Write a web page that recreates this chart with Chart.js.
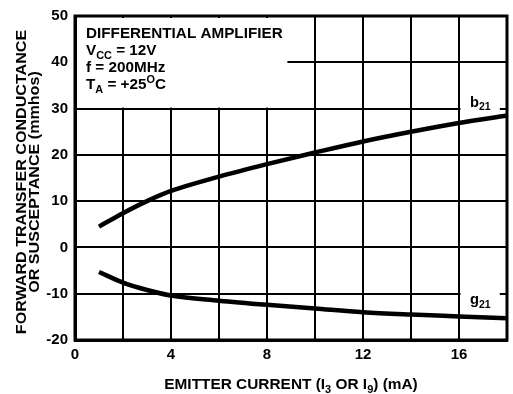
<!DOCTYPE html>
<html><head><meta charset="utf-8">
<script src="https://cdn.jsdelivr.net/npm/chart.js@4/dist/chart.umd.min.js"></script>
<style>html,body{margin:0;padding:0;background:#fff;}#wrap{width:513px;height:394px;position:relative;}</style>
</head><body><div id="wrap"><canvas id="c"></canvas></div>
<script>
const currentMA = [1, 2, 3, 4, 6, 8, 10, 12, 14, 16, 18];
const b21 = [4.5, 7.4, 10.0, 12.2, 15.3, 18.0, 20.5, 22.9, 25.0, 26.9, 28.5];
const g21 = [-5.3, -7.6, -9.2, -10.4, -11.5, -12.4, -13.2, -14.0, -14.5, -14.9, -15.3];
const xTickLabels = ['0', '4', '8', '12', '16'];
const yTickValues = [-20, -10, 0, 10, 20, 30, 40, 50];
const seriesNames = ['b', 'g'];
const seriesSubs = ['21', '21'];
const notes = [
  [{t: 'DIFFERENTIAL AMPLIFIER'}],
  [{t: 'V'}, {t: 'CC', sub: true}, {t: ' = 12V'}],
  [{t: 'f = 200MHz'}],
  [{t: 'T'}, {t: 'A', sub: true}, {t: ' = +25'}, {t: 'O', sup: true}, {t: 'C'}]
];
const xTitle = [{t: 'EMITTER CURRENT (I'}, {t: '3', sub: true}, {t: ' OR I'}, {t: '9', sub: true}, {t: ') (mA)'}];
const yTitle = ['FORWARD TRANSFER CONDUCTANCE', 'OR SUSCEPTANCE (mmhos)'];

const FF = '"Liberation Sans", Arial, sans-serif';

function richWidth(ctx, segs, size) {
  let w = 0;
  for (const s of segs) {
    ctx.font = 'bold ' + ((s.sub || s.sup) ? Math.round(size * 0.72) : size) + 'px ' + FF;
    w += ctx.measureText(s.t).width;
  }
  return w;
}
function drawRich(ctx, segs, x, y, size, align, hs) {
  hs = hs || 1;
  const w = richWidth(ctx, segs, size) * hs;
  const x0 = align === 'center' ? x - w / 2 : x;
  ctx.save();
  ctx.translate(x0, y);
  ctx.scale(hs, 1);
  ctx.textAlign = 'left';
  ctx.textBaseline = 'alphabetic';
  let cx = 0;
  for (const s of segs) {
    const small = s.sub || s.sup;
    ctx.font = 'bold ' + (small ? Math.round(size * 0.72) : size) + 'px ' + FF;
    const dy = s.sub ? size * 0.28 : (s.sup ? -size * 0.42 : 0);
    ctx.fillText(s.t, cx, dy);
    cx += ctx.measureText(s.t).width;
  }
  ctx.restore();
}

const decor = {
  id: 'decor',
  beforeDatasetsDraw(chart) {
    const {ctx, chartArea: a, scales: {x, y}} = chart;
    ctx.save();
    ctx.fillStyle = '#fff';
    ctx.fillRect(a.left + 2, a.top + 2, x.getPixelForValue(8.85) - a.left - 2, y.getPixelForValue(30) - a.top - 3);
    const bx0 = x.getPixelForValue(16) + 1.5, bx1 = x.getPixelForValue(17.7);
    ctx.fillRect(bx0, y.getPixelForValue(30) - 4, bx1 - bx0, 8);
    ctx.fillRect(bx0, y.getPixelForValue(-10) - 4, bx1 - bx0, 8);
    ctx.restore();
  },
  afterDatasetsDraw(chart) {
    const {ctx, chartArea: a, scales: {x, y}} = chart;
    ctx.save();
    ctx.strokeStyle = '#000';
    ctx.lineWidth = 3;
    ctx.strokeRect(a.left, a.top, a.right - a.left, a.bottom - a.top);
    ctx.fillStyle = '#000';
    const lx = a.left + 11;
    let by = a.top + 22;
    for (const n of notes) { drawRich(ctx, n, lx, by, 14, 'left', 1.09); by += 17; }
    const sx = x.getPixelForValue(16) + 11;
    drawRich(ctx, [{t: seriesNames[0]}, {t: seriesSubs[0], sub: true}], sx, y.getPixelForValue(30) - 2, 14, 'left', 1.05);
    drawRich(ctx, [{t: seriesNames[1]}, {t: seriesSubs[1], sub: true}], sx, y.getPixelForValue(-10) + 10, 14, 'left', 1.05);
    drawRich(ctx, xTitle, 291, 389, 14, 'center', 1.1);
    ctx.translate(0, 182);
    ctx.rotate(-Math.PI / 2);
    drawRich(ctx, [{t: yTitle[0]}], 0, 26, 14, 'center', 1.15);
    drawRich(ctx, [{t: yTitle[1]}], 0, 39, 14, 'center', 1.15);
    ctx.restore();
  }
};

new Chart(document.getElementById('c'), {
  type: 'line',
  data: {
    datasets: [
      {label: 'b21', data: currentMA.map((v, i) => ({x: v, y: b21[i]})), borderColor: '#000', borderWidth: 4.5, pointRadius: 0, cubicInterpolationMode: 'monotone', borderCapStyle: 'butt'},
      {label: 'g21', data: currentMA.map((v, i) => ({x: v, y: g21[i]})), borderColor: '#000', borderWidth: 4.5, pointRadius: 0, cubicInterpolationMode: 'monotone', borderCapStyle: 'butt'}
    ]
  },
  options: {
    responsive: true,
    maintainAspectRatio: false,
    animation: false,
    events: [],
    layout: {padding: {left: 0, right: 3, top: 13, bottom: 0}},
    plugins: {legend: {display: false}, tooltip: {enabled: false}, title: {display: false}},
    scales: {
      x: {
        type: 'linear', min: 0, max: 18,
        afterFit(s) { s.height = 54; },
        ticks: {
          stepSize: 2, autoSkip: false, maxRotation: 0, padding: 6, color: '#000',
          font: {family: FF, size: 15, weight: 'bold'},
          callback: v => xTickLabels.includes(String(v)) ? String(v) : ''
        },
        grid: {color: '#000', lineWidth: 2, drawTicks: false},
        border: {display: true, color: '#000', width: 3}
      },
      y: {
        type: 'linear', min: -20, max: 50,
        afterFit(s) { s.width = 75; },
        afterBuildTicks(s) { s.ticks = yTickValues.map(v => ({value: v})); },
        ticks: {
          padding: 7, color: '#000',
          font: {family: FF, size: 15, weight: 'bold'}
        },
        grid: {color: '#000', lineWidth: 2, drawTicks: false},
        border: {display: true, color: '#000', width: 3}
      }
    }
  },
  plugins: [decor]
});
</script>
</body></html>
